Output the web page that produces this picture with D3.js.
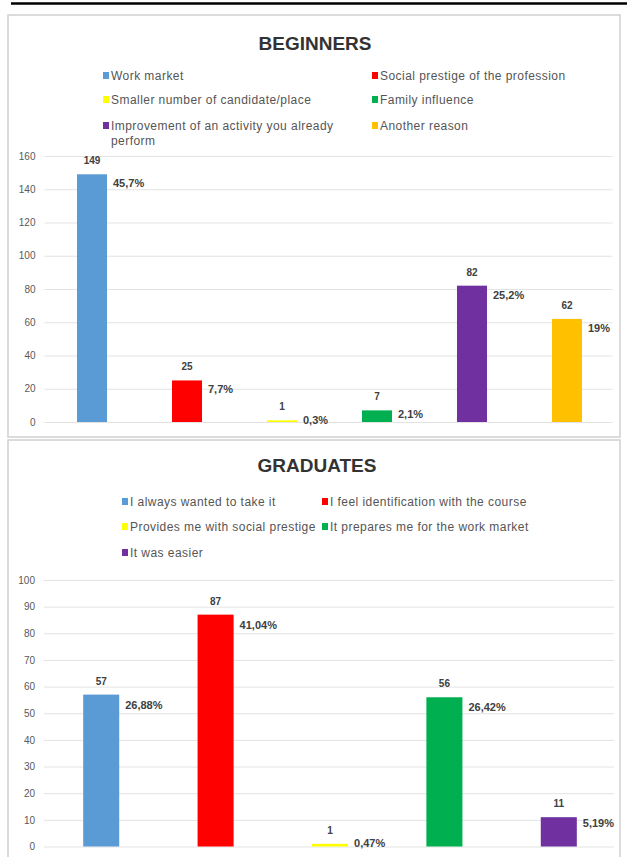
<!DOCTYPE html>
<html><head><meta charset="utf-8">
<script src="https://cdn.jsdelivr.net/npm/d3@7"></script>
<style>
html,body{margin:0;padding:0;background:#fff;}
svg{display:block;}
</style></head>
<body>
<svg id="chart" width="627" height="857"></svg>
<script>
// ---- Data ----
const begCategories = ["Work market","Social prestige of the profession","Smaller number of candidate/place","Family influence","Improvement of an activity you already perform","Another reason"];
const begValues = [149, 25, 1, 7, 82, 62];
const begPercents = ["45,7%","7,7%","0,3%","2,1%","25,2%","19%"];
const begColors = ["#5b9bd5","#ff0000","#ffff00","#00b050","#7030a0","#ffc000"];
const begTicks = [0,20,40,60,80,100,120,140,160];

const gradCategories = ["I always wanted to take it","I feel identification with the course","Provides me with social prestige","It prepares me for the work market","It was easier"];
const gradValues = [57, 87, 1, 56, 11];
const gradPercents = ["26,88%","41,04%","0,47%","26,42%","5,19%"];
const gradColors = ["#5b9bd5","#ff0000","#ffff00","#00b050","#7030a0"];
const gradTicks = [0,10,20,30,40,50,60,70,80,90,100];

const svg = d3.select("#chart");
const FONT = "'Liberation Sans', Arial, sans-serif";
const NARROW = "'Liberation Sans Narrow', 'Liberation Sans', Arial, sans-serif";

// top black rule
svg.append("line").attr("x1",11).attr("x2",627).attr("y1",3.5).attr("y2",3.5)
  .attr("stroke","#000").attr("stroke-width",2.5);

function panel(cfg){
  const g = svg.append("g");
  g.append("rect").attr("x",cfg.box[0]).attr("y",cfg.box[1]).attr("width",cfg.box[2]).attr("height",cfg.box[3])
    .attr("fill","#fff").attr("stroke","#d0d0d0").attr("stroke-width",1.5);
  g.append("text").attr("x",cfg.titleX).attr("y",cfg.titleY).attr("text-anchor","middle")
    .attr("font-family",FONT).attr("font-weight","bold").attr("font-size",19).attr("fill","#333")
    .text(cfg.title);
  // legend
  cfg.legend.forEach((it,i)=>{
    const lines = it.lines || [cfg.cats[i]];
    g.append("rect").attr("x",it.x).attr("y",it.y-8).attr("width",6).attr("height",7).attr("fill",cfg.colors[i]);
    lines.forEach((ln,j)=>{
      g.append("text").attr("x",it.x+8).attr("y",it.y + j*15).attr("font-family",FONT)
        .attr("font-size",12).attr("letter-spacing",0.45).attr("fill","#555").text(ln);
    });
  });
  const y = d3.scaleLinear().domain(cfg.domain).range([cfg.y0, cfg.y1]);
  const x = d3.scaleBand().domain(cfg.cats).range([cfg.x0, cfg.x1])
    .paddingInner(cfg.pad).paddingOuter(cfg.pad/2);
  // grid
  const axis = d3.axisLeft(y).tickValues(cfg.ticks).tickSize(-(cfg.x1 - cfg.x0 - 2)).tickPadding(9);
  const ag = g.append("g").attr("transform",`translate(${cfg.x0},0)`).call(axis);
  ag.select(".domain").remove();
  ag.selectAll(".tick line").attr("stroke","#e3e3e3").attr("stroke-width",1);
  ag.selectAll(".tick text").attr("font-family",FONT).attr("font-size",10).attr("fill","#595959");
  // bars
  g.selectAll("rect.bar").data(cfg.vals).enter().append("rect").attr("class","bar")
    .attr("x",(d,i)=>x(cfg.cats[i])).attr("width",x.bandwidth())
    .attr("y",d=>y(d)).attr("height",d=>y(0)-y(d))
    .attr("fill",(d,i)=>cfg.colors[i]);
  // value labels
  g.selectAll("text.val").data(cfg.vals).enter().append("text").attr("class","val")
    .attr("x",(d,i)=>x(cfg.cats[i])+x.bandwidth()/2).attr("y",d=>y(d)-10)
    .attr("text-anchor","middle").attr("font-family",NARROW).attr("font-weight","bold")
    .attr("font-size",10).attr("fill","#404040").text(d=>d);
  g.selectAll("text.pct").data(cfg.vals).enter().append("text").attr("class","pct")
    .attr("x",(d,i)=>x(cfg.cats[i])+x.bandwidth()+6)
    .attr("y",d=>y(d)+Math.min(cfg.pctDy, 3 + d*0.6))
    .attr("font-family",NARROW).attr("font-weight","bold")
    .attr("font-size",11).attr("fill","#404040").text((d,i)=>cfg.pcts[i]);
}

panel({
  box:[8,15,612,422], title:"BEGINNERS", titleX:315, titleY:50,
  cats:begCategories, vals:begValues, pcts:begPercents, colors:begColors, ticks:begTicks,
  domain:[0,160], y0:422, y1:156, x0:44.5, x1:614.5, pad:0.684, pctDy:13,
  legend:[
    {x:103,y:80},{x:372,y:80},
    {x:103,y:104},{x:372,y:104},
    {x:103,y:130,lines:["Improvement of an activity you already","perform"]},{x:372,y:130}
  ]
});

panel({
  box:[8,440,612,425], title:"GRADUATES", titleX:317, titleY:472,
  cats:gradCategories, vals:gradValues, pcts:gradPercents, colors:gradColors, ticks:gradTicks,
  domain:[0,100], y0:846.5, y1:580, x0:44, x1:616, pad:0.685, pctDy:14,
  legend:[
    {x:122,y:506},{x:322,y:506},
    {x:122,y:531},{x:322,y:531},
    {x:122,y:557}
  ]
});
</script>
</body></html>
